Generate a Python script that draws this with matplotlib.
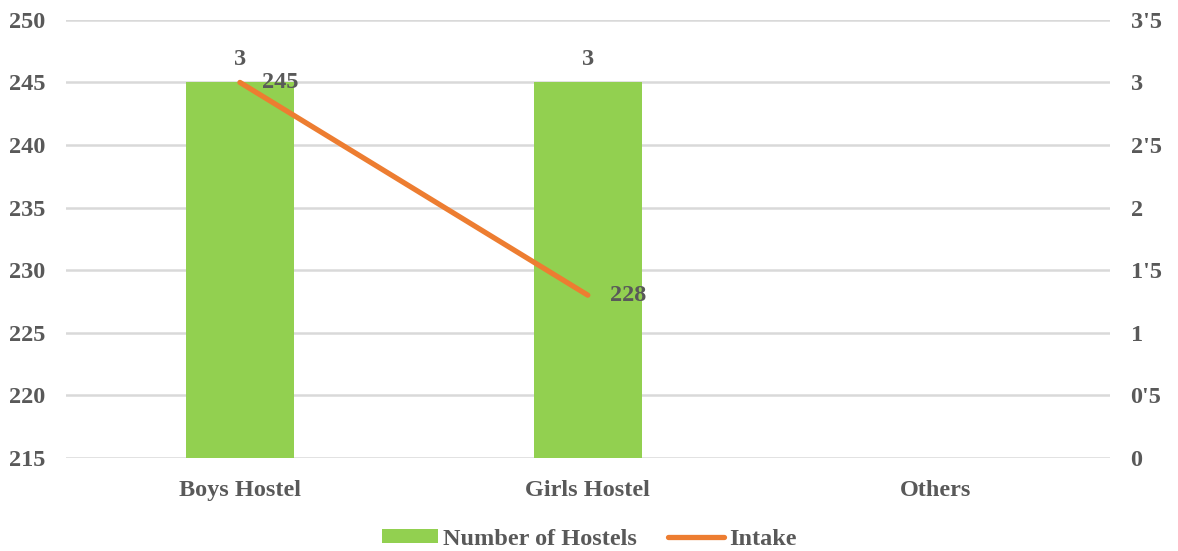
import numpy as np
import matplotlib
matplotlib.use('Agg')
import matplotlib.pyplot as plt
import matplotlib.ticker
from matplotlib.patches import Patch
from matplotlib.lines import Line2D

# data
categories = ['Boys Hostel', 'Girls Hostel', 'Others']
numHostels = [3, 3, np.nan]
intake = [245, 228, np.nan]

green = '#92D050'
orange = '#ED7D31'
textGray = '#595959'
gridGray = '#D9D9D9'
fs = 17.5

plt.rcParams['font.family'] = ['Liberation Serif', 'DejaVu Serif']
plt.rcParams['font.weight'] = 'bold'

fig = plt.figure(figsize=(11.78, 5.51), dpi=100)
ax = fig.add_axes([0.056, 0.169, 0.886, 0.795])
ax2 = ax.twinx()

x = np.arange(len(categories))

# bars on the secondary (right) axis, behind the line
ax2.bar(x, numHostels, width=0.31, color=green, zorder=2)
ax2.set_ylim(0, 3.5)
ax2.yaxis.set_major_locator(matplotlib.ticker.MultipleLocator(0.5))
ax2.yaxis.set_major_formatter(matplotlib.ticker.FuncFormatter(
    lambda v, p: ('%g' % v).replace('.', "'")))
ax2.grid(axis='y', color=gridGray, linewidth=1.8, zorder=0)
ax2.set_axisbelow(True)
for i, v in enumerate(numHostels):
    if not np.isnan(v):
        ax2.annotate('%g' % v, (x[i], v), xytext=(0, 9), textcoords='offset points',
                     ha='center', va='bottom', fontsize=fs, color=textGray, fontweight='bold')

# line on the primary (left) axis
ax.set_zorder(ax2.get_zorder() + 1)
ax.patch.set_visible(False)
ax.plot(x, intake, color=orange, linewidth=3.8, solid_capstyle='round', zorder=3)
ax.set_ylim(215, 250)
ax.yaxis.set_major_locator(matplotlib.ticker.MultipleLocator(5))
for i, v in enumerate(intake):
    if not np.isnan(v):
        ax.annotate('%g' % v, (x[i], v), xytext=(16, 0), textcoords='offset points',
                    ha='left', va='center', fontsize=fs, color=textGray, fontweight='bold')

ax.set_xlim(-0.5, 2.5)
ax.set_xticks(x)
ax.set_xticklabels(categories)

for a in (ax, ax2):
    for s in a.spines.values():
        s.set_visible(False)
    a.tick_params(length=0, labelsize=fs, labelcolor=textGray)
ax.tick_params(axis='y', pad=15)
ax.tick_params(axis='x', pad=16)
ax2.tick_params(axis='y', pad=15)

handles = [Patch(facecolor=green, label='Number of Hostels'),
           Line2D([0], [0], color=orange, linewidth=3.8, solid_capstyle='round', label='Intake')]
fig.legend(handles=handles, loc='lower center', bbox_to_anchor=(0.5, -0.024), ncol=2,
           frameon=False, fontsize=fs, labelcolor=textGray, handlelength=2.3,
           handleheight=0.55, handletextpad=0.2, columnspacing=1.3, borderpad=0.1)

plt.savefig('out.png', dpi=100)
